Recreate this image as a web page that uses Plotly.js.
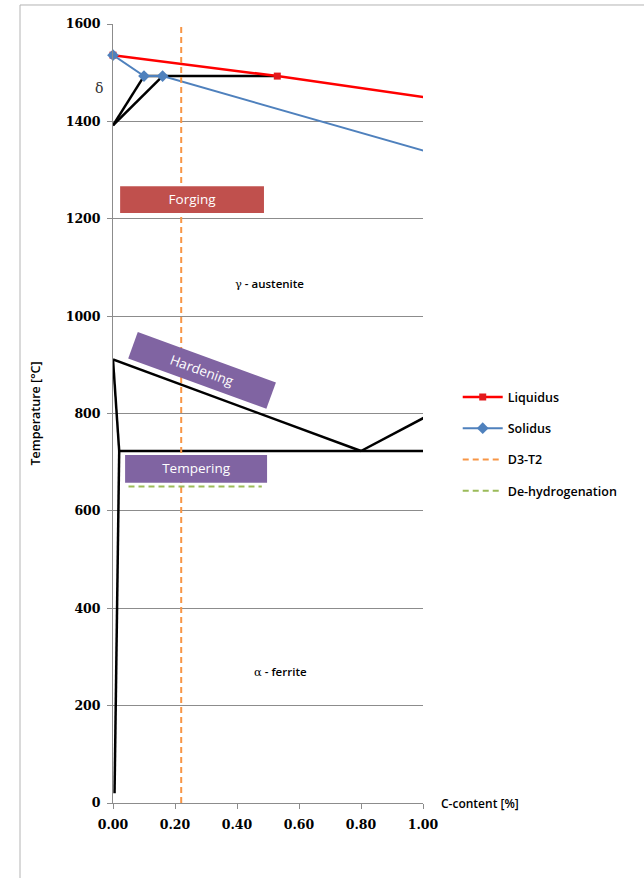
<!DOCTYPE html>
<html>
<head>
<meta charset="utf-8">
<script src="https://cdn.plot.ly/plotly-3.0.1.min.js"></script>
<style>html,body{margin:0;padding:0;background:#fff;}#chart{width:644px;height:878px;}</style>
</head>
<body>
<div id="chart"></div>
<script>
// ---- Data (C-content [%], Temperature [°C]) ----
var liquidusX = [0, 0.53, 4.3];
var liquidusY = [1536, 1493, 1147];
var solidusX = [0, 0.1, 0.16, 2.06];
var solidusY = [1536, 1493, 1493, 1147];
var d3t2X = [0.22, 0.22];
var d3t2Y = [0, 1600];
var dehydX = [0.05, 0.48];
var dehydY = [650, 650];

// phase boundaries (black lines, no legend)
var delta1X = [0, 0.1],      delta1Y = [1392, 1493];
var delta2X = [0, 0.16],     delta2Y = [1392, 1493];
var peritX  = [0.1, 0.53],   peritY  = [1493, 1493];
var a3X     = [0, 0.8],      a3Y     = [911, 723];
var acmX    = [0.8, 2.06],   acmY    = [723, 1147];
var a3LowX  = [0, 0.02],     a3LowY  = [911, 723];
var eutX    = [0.02, 6.67],  eutY    = [723, 723];
var solvX   = [0.02, 0.005], solvY   = [723, 20];

var xTickVals = [0, 0.2, 0.4, 0.6, 0.8, 1.0];
var xTickText = ['0.00', '0.20', '0.40', '0.60', '0.80', '1.00'];
var yTickVals = [0, 200, 400, 600, 800, 1000, 1200, 1400, 1600];

var boundaries = [[delta1X, delta1Y], [delta2X, delta2Y], [peritX, peritY], [a3X, a3Y],
                  [acmX, acmY], [a3LowX, a3LowY], [eutX, eutY], [solvX, solvY]];
var bx = [], by = [];
boundaries.forEach(function (b) { bx = bx.concat(b[0], [null]); by = by.concat(b[1], [null]); });

var sans = 'Open Sans, sans-serif';
var serif = 'DejaVu Serif, serif';

var traces = [
  {x: bx, y: by, mode: 'lines', line: {color: '#000000', width: 2.5}, showlegend: false, hoverinfo: 'skip'},
  {x: liquidusX, y: liquidusY, name: 'Liquidus', mode: 'lines+markers', legendgroup: 'a',
   line: {color: '#FF0000', width: 2.5}, marker: {symbol: 'square', size: 7, color: '#E31A1C'}, cliponaxis: false},
  {x: solidusX, y: solidusY, name: 'Solidus', mode: 'lines+markers', legendgroup: 'b',
   line: {color: '#4F81BD', width: 2}, marker: {symbol: 'diamond', size: 9, color: '#4F81BD'}, cliponaxis: false},
  {x: d3t2X, y: d3t2Y, name: 'D3-T2', mode: 'lines', legendgroup: 'c',
   line: {color: '#F79646', width: 2, dash: '6px,4px'}},
  {x: dehydX, y: dehydY, name: 'De-hydrogenation', mode: 'lines', legendgroup: 'd',
   line: {color: '#9BBB59', width: 2, dash: '6px,4px'}}
];

var layout = {
  width: 644, height: 878,
  margin: {l: 113, r: 221, t: 24, b: 75},
  paper_bgcolor: '#ffffff', plot_bgcolor: '#ffffff',
  showlegend: true,
  legend: {x: 1.112, xanchor: 'left', y: 0.54, yanchor: 'top', traceorder: 'grouped', tracegroupgap: 12,
           itemwidth: 40,
           font: {family: sans, size: 12.5, color: '#000', weight: 600}, bgcolor: 'rgba(0,0,0,0)'},
  xaxis: {range: [0, 1], tickvals: xTickVals, ticktext: xTickText, showgrid: false, zeroline: false,
          showline: true, linecolor: '#8c8c8c', linewidth: 1, ticks: 'outside', ticklen: 5, tickcolor: '#8c8c8c',
          ticklabelstandoff: 5,
          tickfont: {family: serif, size: 12.5, color: '#000', weight: 'bold'}, fixedrange: true},
  yaxis: {range: [0, 1600], tickvals: yTickVals, showgrid: true, gridcolor: '#8c8c8c', gridwidth: 1, zeroline: false,
          showline: true, linecolor: '#8c8c8c', linewidth: 1, ticks: 'outside', ticklen: 5, tickcolor: '#8c8c8c',
          ticklabelstandoff: 4,
          tickfont: {family: serif, size: 12.5, color: '#000', weight: 'bold'},
          title: {text: 'Temperature [°C]', standoff: 22, font: {family: sans, size: 12.5, color: '#000', weight: 600}},
          fixedrange: true},
  shapes: [
    {type: 'rect', xref: 'paper', yref: 'paper', x0: -0.3, x1: 1.75, y0: -0.13, y1: 1.0244,
     line: {color: '#b4b4b4', width: 1}, fillcolor: 'rgba(0,0,0,0)', layer: 'below'},
    {type: 'rect', xref: 'x', yref: 'y', x0: 0.023, x1: 0.487, y0: 1212, y1: 1267,
     fillcolor: '#C0504D', line: {width: 0}, layer: 'above',
     label: {text: 'Forging', font: {family: sans, size: 13.5, color: '#ffffff'}, textposition: 'middle center'}},
    {type: 'rect', xref: 'x', yref: 'y', x0: 0.039, x1: 0.497, y0: 658, y1: 715,
     fillcolor: '#8064A2', line: {width: 0}, layer: 'above',
     label: {text: 'Tempering', font: {family: sans, size: 13.5, color: '#ffffff'}, textposition: 'middle center'}}
  ],
  annotations: [
    {x: 0.288, y: 888, xref: 'x', yref: 'y', text: 'Hardening', showarrow: false, textangle: 20,
     bgcolor: '#8064A2', width: 144, height: 25, borderpad: 1, font: {family: sans, size: 13.5, color: '#ffffff'}},
    {x: 0.506, y: 1068, xref: 'x', yref: 'y', text: '<span style="font-family:DejaVu Serif;font-weight:normal">γ</span> - austenite', showarrow: false,
     font: {family: sans, size: 11.5, color: '#000', weight: 600}},
    {x: 0.54, y: 270, xref: 'x', yref: 'y', text: '<span style="font-family:DejaVu Serif;font-weight:normal">α</span> - ferrite', showarrow: false,
     font: {family: sans, size: 11.5, color: '#000', weight: 600}},
    {x: -0.065, y: 1469, xref: 'paper', yref: 'y', text: 'δ', showarrow: false,
     font: {family: serif, size: 14, color: '#333'}},
    {x: 1.052, y: 0, xref: 'paper', yref: 'paper', xanchor: 'left', yanchor: 'middle', text: 'C-content [%]',
     showarrow: false, font: {family: sans, size: 12, color: '#000', weight: 600}}
  ]
};

Plotly.newPlot('chart', traces, layout, {staticPlot: true, displayModeBar: false});
</script>
</body>
</html>
